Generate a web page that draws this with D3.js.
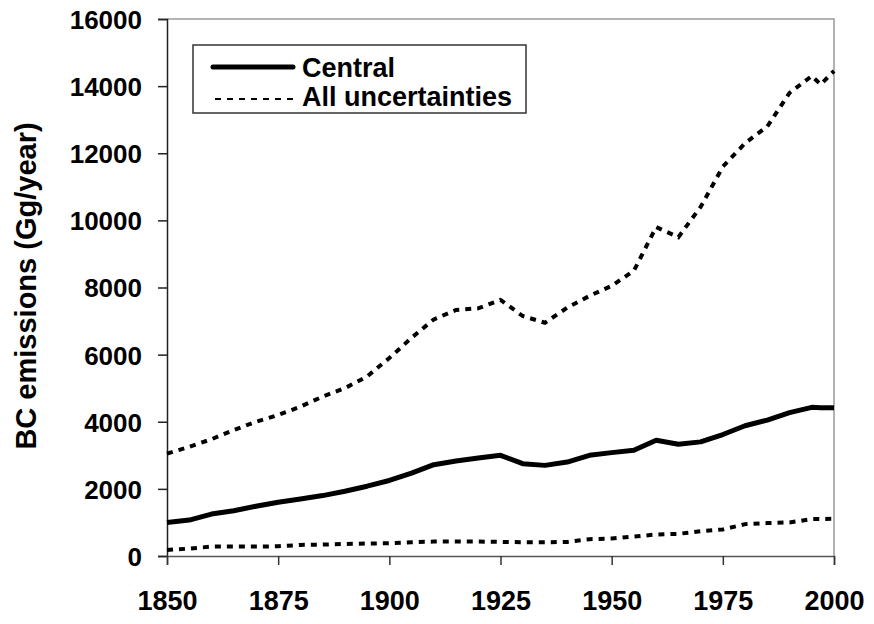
<!DOCTYPE html>
<html>
<head>
<meta charset="utf-8">
<script src="https://cdn.jsdelivr.net/npm/d3@7"></script>
<style>
  body { margin: 0; background: #fff; }
  text { font-family: "Liberation Sans", Arial, sans-serif; font-weight: bold; fill: #000; }
</style>
</head>
<body>
<div id="wrapper"></div>
<script>
const years   = [1850,1855,1860,1865,1870,1875,1880,1885,1890,1895,1900,1905,1910,1915,1920,1925,1930,1935,1940,1945,1950,1955,1960,1965,1970,1975,1980,1985,1990,1995,1997,2000];
const central = [1000,1070,1250,1350,1480,1600,1700,1800,1930,2080,2250,2470,2720,2830,2920,3000,2750,2700,2800,3000,3080,3150,3450,3330,3400,3620,3880,4050,4270,4430,4420,4420];
const upper   = [3050,3250,3480,3750,4000,4200,4450,4750,5000,5350,5900,6500,7050,7330,7380,7630,7150,6950,7400,7750,8050,8500,9800,9500,10400,11600,12300,12800,13800,14300,14050,14450];
const lower   = [180,220,280,280,280,290,330,340,360,370,380,410,430,430,430,420,410,410,420,500,520,580,640,660,740,790,950,980,1000,1100,1100,1110];
const xTicks  = [1850,1875,1900,1925,1950,1975,2000];
const yTicks  = [0,2000,4000,6000,8000,10000,12000,14000,16000];

function buildPlot() {
    const dimension = {
        width: 874,
        height: 624,
        margin: { top: 19, left: 167, bottom: 68, right: 40 }
    };
    dimension.boundedWidth = dimension.width - dimension.margin.left - dimension.margin.right;
    dimension.boundedHeight = dimension.height - dimension.margin.top - dimension.margin.bottom;

    const svg = d3.select("#wrapper").append("svg")
        .attr("width", dimension.width)
        .attr("height", dimension.height);

    const x = d3.scaleLinear().domain([1850, 2000])
        .range([dimension.margin.left, dimension.margin.left + dimension.boundedWidth]);
    const y = d3.scaleLinear().domain([0, 16000])
        .range([dimension.margin.top + dimension.boundedHeight, dimension.margin.top]);

    // plot frame (top and right)
    svg.append("path")
        .attr("d", `M${x(1850)},${y(16000)}H${x(2000)}V${y(0)}`)
        .attr("fill", "none").attr("stroke", "#999").attr("stroke-width", 1.5);

    const yAxis = svg.append("g")
        .attr("transform", `translate(${x(1850)},0)`)
        .call(d3.axisLeft(y).tickValues(yTicks).tickFormat(d3.format("d")).tickSize(9).tickPadding(16));
    yAxis.select(".domain").attr("stroke", "#222").attr("stroke-width", 1.5);
    yAxis.selectAll(".tick line").attr("stroke", "#222").attr("stroke-width", 1.5);
    yAxis.selectAll(".tick text").style("font-size", "26px").attr("dy", "0.36em");

    const xAxis = svg.append("g")
        .attr("transform", `translate(0,${y(0)})`)
        .call(d3.axisBottom(x).tickValues(xTicks).tickFormat(d3.format("d")).tickSize(9).tickPadding(26));
    xAxis.select(".domain").attr("stroke", "#555").attr("stroke-width", 1.5);
    xAxis.selectAll(".tick line").attr("stroke", "#333").attr("stroke-width", 1.5);
    xAxis.selectAll(".tick text").style("font-size", "27px");

    svg.append("text")
        .attr("transform", `translate(36,286) rotate(-90)`)
        .attr("text-anchor", "middle")
        .style("font-size", "29px")
        .text("BC emissions (Gg/year)");

    const line = d3.line().x((d, i) => x(years[i])).y(d => y(d));

    svg.append("path").datum(upper)
        .attr("d", line).attr("fill", "none")
        .attr("stroke", "#000").attr("stroke-width", 4).attr("stroke-dasharray", "6,6");
    svg.append("path").datum(lower)
        .attr("d", line).attr("fill", "none")
        .attr("stroke", "#000").attr("stroke-width", 4).attr("stroke-dasharray", "6,6");
    svg.append("path").datum(central)
        .attr("d", line).attr("fill", "none")
        .attr("stroke", "#000").attr("stroke-width", 5).attr("stroke-linejoin", "round");

    // legend
    const legend = svg.append("g");
    legend.append("rect")
        .attr("x", 193).attr("y", 45).attr("width", 333).attr("height", 68)
        .attr("fill", "#fff").attr("stroke", "#333").attr("stroke-width", 1.5);
    legend.append("line")
        .attr("x1", 213).attr("x2", 293).attr("y1", 67).attr("y2", 67)
        .attr("stroke", "#000").attr("stroke-width", 5).attr("stroke-linecap", "round");
    legend.append("line")
        .attr("x1", 215).attr("x2", 293).attr("y1", 99).attr("y2", 99)
        .attr("stroke", "#000").attr("stroke-width", 2).attr("stroke-dasharray", "6,6");
    legend.append("text").attr("x", 302).attr("y", 77).style("font-size", "27px").text("Central");
    legend.append("text").attr("x", 302).attr("y", 106).style("font-size", "27px").text("All uncertainties");
}

buildPlot();
</script>
</body>
</html>
